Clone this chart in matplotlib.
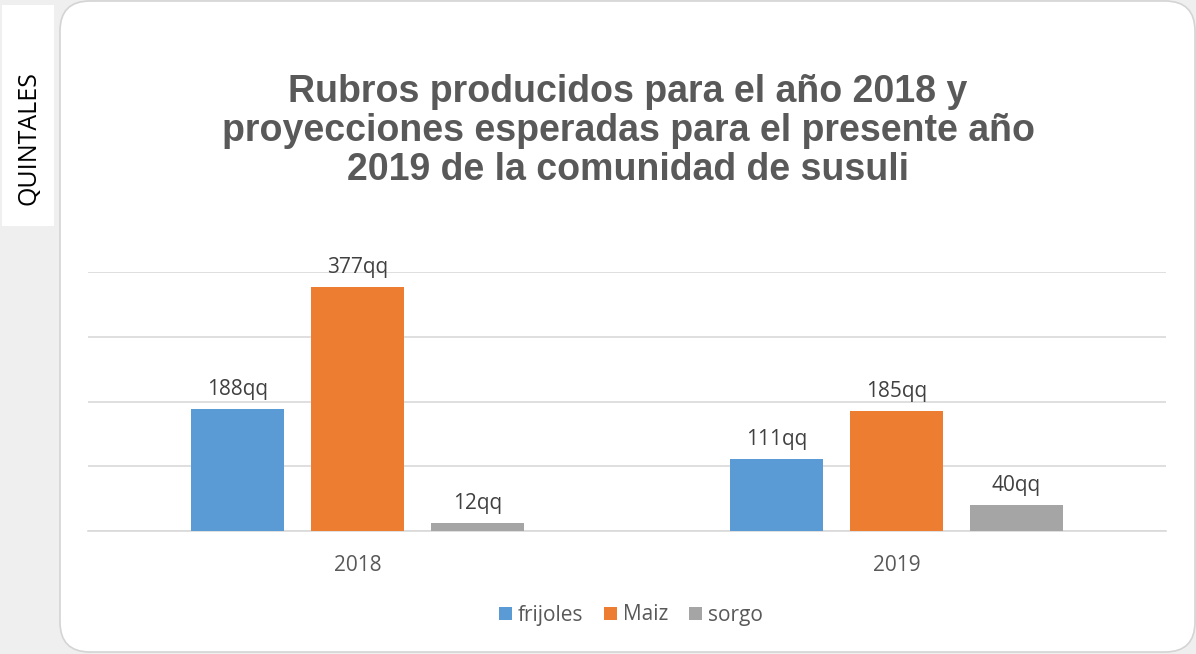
import matplotlib.pyplot as plt
from matplotlib.patches import FancyBboxPatch, Rectangle
import numpy as np

years = ["2018", "2019"]
series = ["frijoles", "Maiz", "sorgo"]
values = {
    "frijoles": [188, 111],
    "Maiz": [377, 185],
    "sorgo": [12, 40],
}
colors = ["#5B9BD5", "#ED7D31", "#A5A5A5"]

fig = plt.figure(figsize=(11.96, 6.54), dpi=100)
fig.patch.set_facecolor("#efefef")

# background layer in pixel coordinates
bg = fig.add_axes([0, 0, 1, 1], zorder=0)
bg.set_xlim(0, 1196)
bg.set_ylim(654, 0)
bg.axis("off")
bg.add_patch(FancyBboxPatch((60, 1), 1135, 651, boxstyle="round,pad=0,rounding_size=30",
                            facecolor="white", edgecolor="#d4d4d4", linewidth=1.2))
bg.add_patch(Rectangle((2, 5), 52, 221, facecolor="white", edgecolor="none"))
bg.text(29, 138, "QUINTALES", rotation=90, ha="center", va="center",
        fontsize=18, color="#000000", family="Open Sans")

bg.text(628, 131, "Rubros producidos para el año 2018 y\nproyecciones esperadas para el presente año\n2019 de la comunidad de susuli",
        ha="center", va="center", fontsize=27, fontweight="bold", color="#595959",
        family="Liberation Sans", linespacing=1.1)

ax = fig.add_axes([88 / 1196, 1 - 531 / 654, 1078 / 1196, 259 / 654], zorder=1)
ax.patch.set_alpha(0)
x = np.arange(len(years))
width = 0.174
step = 0.2226
for i, name in enumerate(series):
    bars = ax.bar(x + (i - 1) * step, values[name], width, color=colors[i], label=name, zorder=3)
    for b, v in zip(bars, values[name]):
        ax.text(b.get_x() + b.get_width() / 2, v + 14, f"{v}qq", ha="center", va="bottom",
                fontsize=15, color="#404040", family="Open Sans")

ax.set_xlim(-0.5, 1.5)
ax.set_ylim(0, 400)
ax.set_yticks([0, 100, 200, 300, 400])
ax.set_yticklabels([])
ax.tick_params(axis="y", length=0)
ax.grid(axis="y", color="#d9d9d9", linewidth=1.2, zorder=0)
ax.set_xticks(x)
ax.set_xticklabels(years, fontsize=15, color="#595959", family="Open Sans")
ax.tick_params(axis="x", length=0, pad=17)
for s in ["top", "right", "left"]:
    ax.spines[s].set_visible(False)
ax.spines["bottom"].set_color("#d9d9d9")
ax.spines["bottom"].set_linewidth(1.2)

leg = fig.legend(loc="center", bbox_to_anchor=(631 / 1196, 1 - 615 / 654), ncol=3,
                 frameon=False, handlelength=0.6, handleheight=0.6, handletextpad=0.3,
                 columnspacing=1.0, prop={"family": "Open Sans", "size": 15})
for t in leg.get_texts():
    t.set_color("#595959")

fig.savefig("out.png", dpi=100, facecolor=fig.get_facecolor())
